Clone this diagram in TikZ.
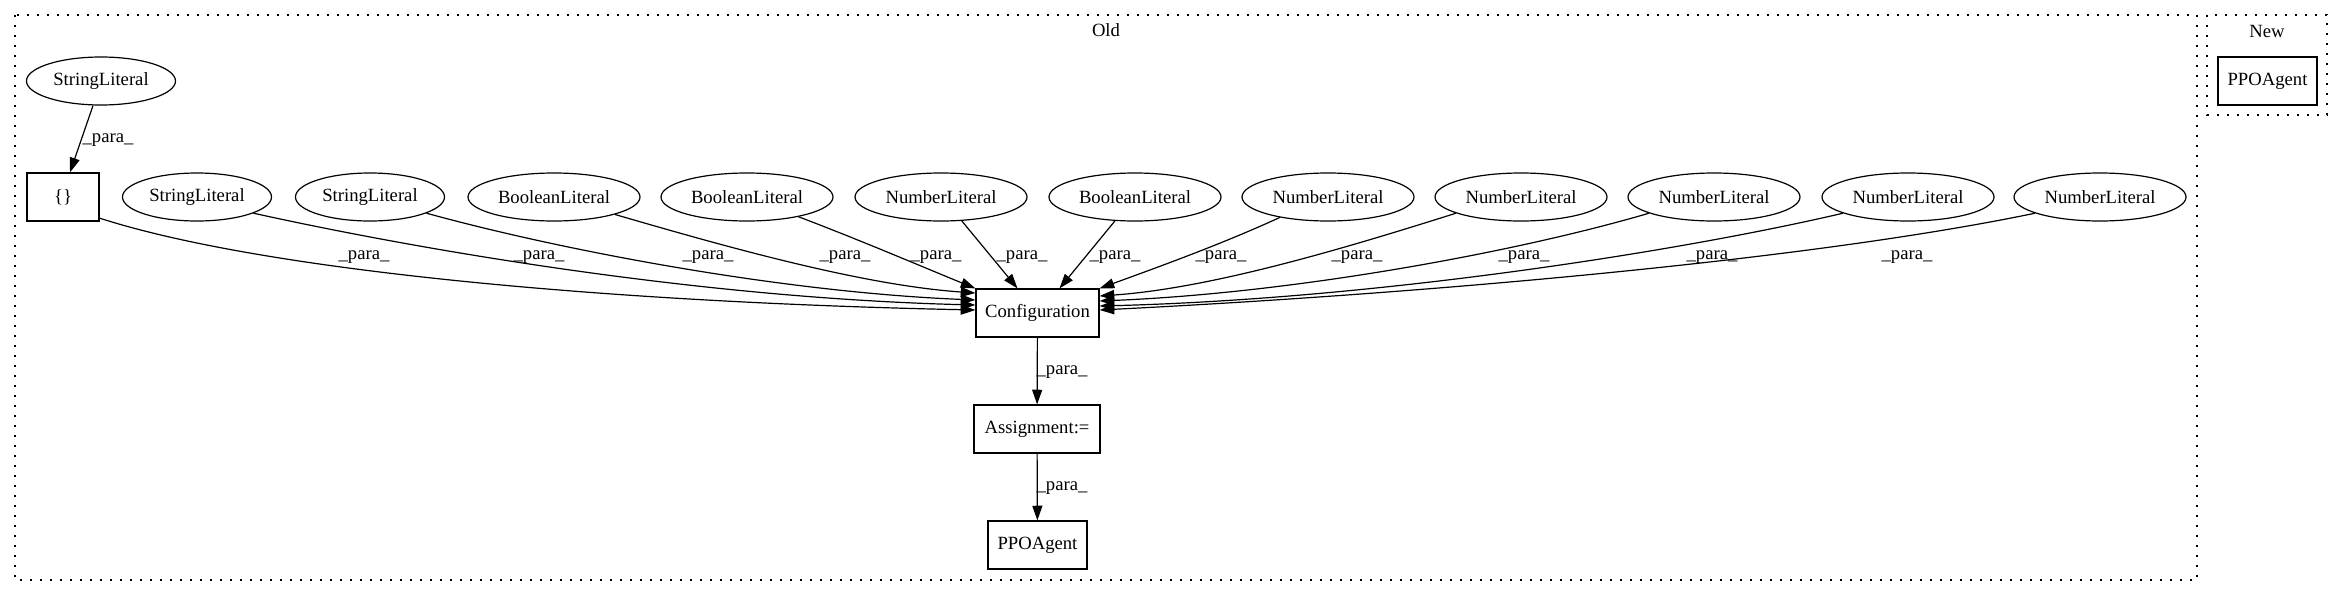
\documentclass[tikz,border=0pt]{standalone}
\usepackage{fontspec}
\setmainfont{Liberation Serif}
\usetikzlibrary{shapes.geometric,arrows.meta,calc}
\begin{document}
\begin{tikzpicture}[x=0.75pt,y=-0.75pt,
  every node/.style={font=\fontsize{14pt}{16pt}\selectfont},
  lit/.style={draw,ellipse,line width=0.9pt,minimum height=36pt,inner sep=0pt},
  slit/.style={lit,minimum width=111.75pt},
  wlit/.style={lit,minimum width=129pt},
  box/.style={draw,rectangle,line width=0.9pt,minimum height=36pt,inner sep=0pt},
  edge/.style={line width=0.9pt,-{Triangle[length=11pt,width=7.5pt]}},
  lbl/.style={inner sep=0pt},
  cluster/.style={line width=0.9pt,dash pattern=on 1.3pt off 6.2pt}]
\useasboundingbox (0,0) rectangle (2344,596);
% clusters
\draw[cluster] (15,15) rectangle (2197,580);
\node[lbl] (oldlbl) at (1106,30) {Old};
\draw[cluster] (2207,15) rectangle (2327,115);
\node[lbl] (newlbl) at (2267,31) {New};
% nodes
\node[slit] (s0) at (101,81) {StringLiteral};
\node[box,minimum width=54pt] (obj) at (63,197) {\{\}};
\node[slit] (s1) at (197,197) {StringLiteral};
\node[slit] (s2) at (370,197) {StringLiteral};
\node[wlit] (b1) at (554,197) {BooleanLiteral};
\node[wlit] (b2) at (747,197) {BooleanLiteral};
\node[wlit] (n1) at (941,197) {NumberLiteral};
\node[wlit] (b3) at (1135,197) {BooleanLiteral};
\node[wlit] (n2) at (1328,197) {NumberLiteral};
\node[wlit] (n3) at (1521,197) {NumberLiteral};
\node[wlit] (n4) at (1714,197) {NumberLiteral};
\node[wlit] (n5) at (1908,197) {NumberLiteral};
\node[wlit] (n6) at (2100,197) {NumberLiteral};
\node[box,minimum width=92.25pt] (conf) at (1037.5,313) {Configuration};
\node[box,minimum width=94.5pt] (asg) at (1037,429) {Assignment:=};
\node[box,minimum width=74.25pt] (ppo) at (1037.5,545) {PPOAgent};
\node[box,minimum width=74.25pt] (ppo2) at (2267.5,81) {PPOAgent};
% edges
\draw[edge] (s0.-108) -- ($(obj.north)+(7,0)$);
\node[lbl] (l0) at (108,140) {\_para\_};
\draw[edge] (obj.-30) .. controls (260,270) and (600,302) .. ($(conf.west)+(0,-3)$);
\node[lbl] (l1) at (364,257) {\_para\_};
\draw[edge] (s1.-16) .. controls (420,250) and (700,298) .. ($(conf.west)+(0,-8)$);
\node[lbl] (l2) at (539,257) {\_para\_};
\draw[edge] (s2.-16) .. controls (560,250) and (780,292) .. ($(conf.west)+(0,-13)$);
\node[lbl] (l3) at (708,257) {\_para\_};
\draw[edge] (b1.-16) .. controls (720,245) and (860,285) .. ($(conf.west)+(0,-20)$);
\node[lbl] (l4) at (845,257) {\_para\_};
\draw[edge] (b2.-21) .. controls (860,240) and (930,270) .. (conf.north west);
\node[lbl] (l5) at (936,257) {\_para\_};
\draw[edge] (n1.-49) -- ($(conf.north)+(-20,0)$);
\node[lbl] (l6) at (1022,257) {\_para\_};
\draw[edge] (b3.-130) -- ($(conf.north)+(22,0)$);
\node[lbl] (l7) at (1115,257) {\_para\_};
\draw[edge] (n2.-157) .. controls (1220,245) and (1150,270) .. (conf.north east);
\node[lbl] (l8) at (1221,257) {\_para\_};
\draw[edge] (n3.-166) .. controls (1355,245) and (1215,288) .. ($(conf.east)+(0,-17)$);
\node[lbl] (l9) at (1357,257) {\_para\_};
\draw[edge] (n4.-166) .. controls (1517,252) and (1295,293) .. ($(conf.east)+(0,-12)$);
\node[lbl] (l10) at (1524,257) {\_para\_};
\draw[edge] (n5.-166) .. controls (1677,252) and (1375,299) .. ($(conf.east)+(0,-7)$);
\node[lbl] (l11) at (1712,257) {\_para\_};
\draw[edge] (n6.-166) .. controls (1800,262) and (1400,295) .. ($(conf.east)+(0,-3)$);
\node[lbl] (l12) at (1907,257) {\_para\_};
\draw[edge] (conf) -- (asg);
\node[lbl] (l13) at (1062,372) {\_para\_};
\draw[edge] (asg) -- (ppo);
\node[lbl] (l14) at (1062,488) {\_para\_};
\end{tikzpicture}
\end{document}
